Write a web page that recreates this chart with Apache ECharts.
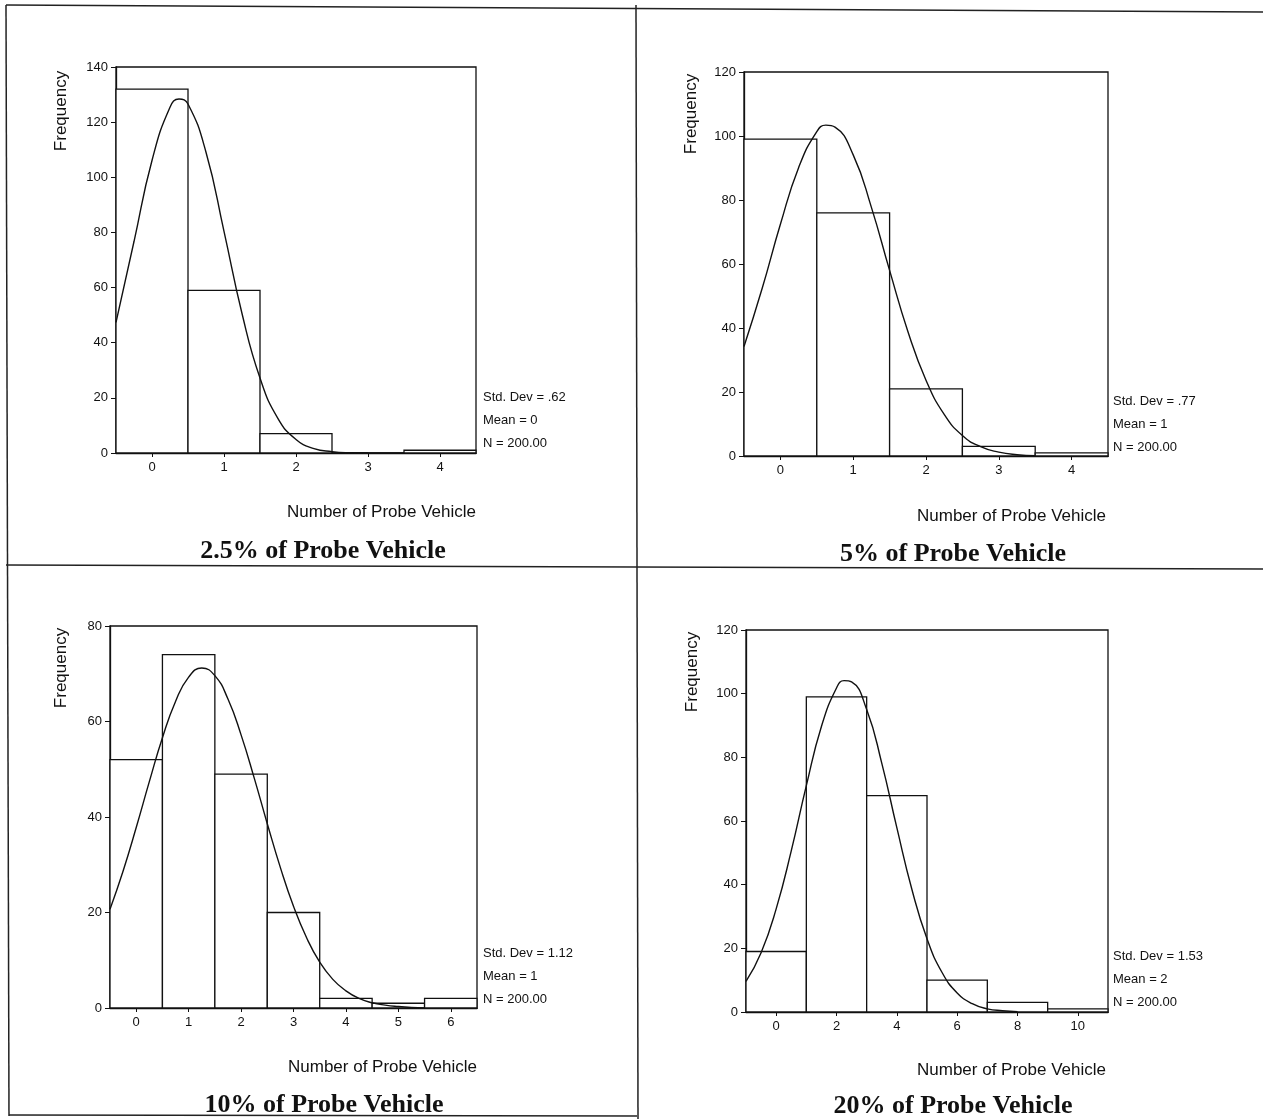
<!DOCTYPE html>
<html>
<head>
<meta charset="utf-8">
<script src="https://cdn.jsdelivr.net/npm/echarts@6/dist/echarts.min.js"></script>
<style>
html,body{margin:0;padding:0;background:#fff;}
#chart{width:1263px;height:1119px;}
</style>
</head>
<body>
<div id="chart"></div>
<script>
// ---------- DATA ----------
const titles = ['2.5% of Probe Vehicle', '5% of Probe Vehicle', '10% of Probe Vehicle', '20% of Probe Vehicle'];
const xAxisName = 'Number of Probe Vehicle';
const yAxisName = 'Frequency';

// 2.5%
const bins25 = [0, 1, 2, 3, 4];
const freq25 = [132, 59, 7, 0, 1];
const curveX25 = [-0.5, -0.25, 0, 0.25, 0.375, 0.5, 0.75, 1.0, 1.25, 1.5, 1.75, 2.0, 2.25, 2.5, 2.75, 3.0];
const curveY25 = [47.4, 76.7, 106.1, 125.4, 128.4, 126.6, 109.1, 80.4, 50.6, 27.2, 12.5, 4.9, 1.6, 0.5, 0.1, 0];
const xTicks25 = [0, 1, 2, 3, 4];
const stats25 = ['Std. Dev = .62', 'Mean = 0', 'N = 200.00'];

// 5%
const bins5 = [0, 1, 2, 3, 4];
const freq5 = [99, 76, 21, 3, 1];
const curveX5 = [-0.5, -0.25, 0, 0.25, 0.5, 0.625, 0.75, 1.0, 1.25, 1.5, 1.75, 2.0, 2.25, 2.5, 2.75, 3.0, 3.25, 3.5];
const curveY5 = [34.2, 52.4, 72.4, 90.1, 101.4, 103.4, 102.8, 94.1, 77.7, 58.0, 39.0, 23.7, 13.0, 6.4, 2.9, 1.2, 0.4, 0.1];
const xTicks5 = [0, 1, 2, 3, 4];
const stats5 = ['Std. Dev = .77', 'Mean = 1', 'N = 200.00'];

// 10%
const bins10 = [0, 1, 2, 3, 4, 5, 6];
const freq10 = [52, 74, 49, 20, 2, 1, 2];
const curveX10 = [-0.5, -0.25, 0, 0.25, 0.5, 0.75, 1.0, 1.25, 1.5, 1.75, 2.0, 2.25, 2.5, 2.75, 3.0, 3.25, 3.5, 3.75, 4.0, 4.25, 4.5, 4.75, 5.0, 5.25, 5.5];
const curveY10 = [20.7, 28.7, 37.8, 47.4, 56.6, 64.2, 69.3, 71.2, 69.6, 64.7, 57.2, 48.2, 38.6, 29.4, 21.3, 14.7, 9.6, 6.0, 3.6, 2.0, 1.1, 0.6, 0.3, 0.1, 0];
const xTicks10 = [0, 1, 2, 3, 4, 5, 6];
const stats10 = ['Std. Dev = 1.12', 'Mean = 1', 'N = 200.00'];

// 20%
const bins20 = [0, 2, 4, 6, 8, 10];
const freq20 = [19, 99, 68, 10, 3, 1];
const curveX20 = [-1, -0.5, 0, 0.5, 1, 1.5, 2, 2.25, 2.5, 3, 3.5, 4, 4.5, 5, 5.5, 6, 6.5, 7, 7.5, 8];
const curveY20 = [9.6, 18.6, 32.4, 50.6, 71.1, 89.7, 101.8, 104.1, 103.7, 95.0, 78.2, 57.9, 38.5, 23.0, 12.4, 6.0, 2.6, 1.0, 0.4, 0.1];
const xTicks20 = [0, 2, 4, 6, 8, 10];
const stats20 = ['Std. Dev = 1.53', 'Mean = 2', 'N = 200.00'];

// ---------- LAYOUT ----------
const panels = [
  { bins: bins25, freq: freq25, cx: curveX25, cy: curveY25, ticks: xTicks25, stats: stats25, binW: 1,
    xmin: -0.5, xmax: 4.5, ymax: 140,
    grid: { left: 116, top: 67, width: 360, height: 386 },
    freqPos: [61, 111], xNamePos: [476, 512], titlePos: [323, 551], statsPos: [483, 397] },
  { bins: bins5, freq: freq5, cx: curveX5, cy: curveY5, ticks: xTicks5, stats: stats5, binW: 1,
    xmin: -0.5, xmax: 4.5, ymax: 120,
    grid: { left: 744, top: 72, width: 364, height: 384 },
    freqPos: [691, 114], xNamePos: [1106, 516], titlePos: [953, 554], statsPos: [1113, 401] },
  { bins: bins10, freq: freq10, cx: curveX10, cy: curveY10, ticks: xTicks10, stats: stats10, binW: 1,
    xmin: -0.5, xmax: 6.5, ymax: 80,
    grid: { left: 110, top: 626, width: 367, height: 382 },
    freqPos: [61, 668], xNamePos: [477, 1067], titlePos: [324, 1105], statsPos: [483, 953] },
  { bins: bins20, freq: freq20, cx: curveX20, cy: curveY20, ticks: xTicks20, stats: stats20, binW: 2,
    xmin: -1, xmax: 11, ymax: 120,
    grid: { left: 746, top: 630, width: 362, height: 382 },
    freqPos: [692, 672], xNamePos: [1106, 1070], titlePos: [953, 1106], statsPos: [1113, 956] }
];

const INK = '#111';
const sansFont = '"Liberation Sans", Arial, sans-serif';
const serifFont = '"Liberation Serif", "Times New Roman", serif';

const grids = [], xAxes = [], yAxes = [], series = [], graphics = [];

panels.forEach((p, i) => {
  grids.push(Object.assign({ show: true, borderColor: INK, borderWidth: 1.3, backgroundColor: '#fff' }, p.grid));
  xAxes.push({
    type: 'value', gridIndex: i, min: p.xmin, max: p.xmax,
    axisLine: { show: true, onZero: false, lineStyle: { color: INK, width: 1.3 } },
    axisTick: { show: true, length: 4, customValues: p.ticks, lineStyle: { color: INK } },
    axisLabel: { show: true, customValues: p.ticks, margin: 8, color: '#111', fontSize: 13, fontFamily: sansFont },
    splitLine: { show: false }
  });
  yAxes.push({
    type: 'value', gridIndex: i, min: 0, max: p.ymax, interval: 20,
    axisLine: { show: true, onZero: false, lineStyle: { color: INK, width: 1.3 } },
    axisTick: { show: true, length: 5, lineStyle: { color: INK } },
    axisLabel: { show: true, margin: 8, color: '#111', fontSize: 13, fontFamily: sansFont },
    splitLine: { show: false }
  });
  const w = p.binW;
  series.push({
    type: 'custom', xAxisIndex: i, yAxisIndex: i,
    data: p.bins.map((b, k) => [b, p.freq[k]]),
    encode: { x: 0, y: 1 },
    renderItem: function (params, api) {
      const c = api.value(0), v = api.value(1);
      const a = api.coord([c - w / 2, v]);
      const b = api.coord([c + w / 2, 0]);
      return {
        type: 'rect',
        shape: { x: a[0], y: a[1], width: b[0] - a[0], height: b[1] - a[1] },
        style: { fill: '#fff', stroke: INK, lineWidth: 1.3 }
      };
    },
    z: 2
  });
  series.push({
    type: 'line', xAxisIndex: i, yAxisIndex: i,
    data: p.cx.map((x, k) => [x, p.cy[k]]),
    smooth: 0.5, showSymbol: false, symbol: 'none',
    lineStyle: { color: INK, width: 1.4 }, z: 3, silent: true
  });
  graphics.push({
    type: 'text', x: p.freqPos[0], y: p.freqPos[1], rotation: Math.PI / 2,
    style: { text: yAxisName, font: '17px ' + sansFont, fill: '#111', textAlign: 'center', textVerticalAlign: 'middle', align: 'center', verticalAlign: 'middle' }
  });
  graphics.push({
    type: 'text', x: p.xNamePos[0], y: p.xNamePos[1],
    style: { text: xAxisName, font: '17px ' + sansFont, fill: '#111', textAlign: 'right', textVerticalAlign: 'middle', align: 'right', verticalAlign: 'middle' }
  });
  graphics.push({
    type: 'text', x: p.titlePos[0], y: p.titlePos[1],
    style: { text: titles[i], font: 'bold 26px ' + serifFont, fill: '#111', textAlign: 'center', textVerticalAlign: 'middle', align: 'center', verticalAlign: 'middle' }
  });
  p.stats.forEach((s, k) => {
    graphics.push({
      type: 'text', x: p.statsPos[0], y: p.statsPos[1] + k * 23,
      style: { text: s, font: '13px ' + sansFont, fill: '#111', textAlign: 'left', textVerticalAlign: 'middle', align: 'left', verticalAlign: 'middle' }
    });
  });
});

// frame lines
const frameLines = [
  [6, 5, 1263, 12],
  [6, 5, 9, 1116],
  [636, 5, 638, 1119],
  [6, 565, 1263, 569],
  [9, 1115, 637, 1116]
];
frameLines.forEach(l => {
  graphics.push({ type: 'line', shape: { x1: l[0], y1: l[1], x2: l[2], y2: l[3] }, style: { stroke: '#222', lineWidth: 1.5 }, z: 10 });
});

const chart = echarts.init(document.getElementById('chart'), null, { renderer: 'canvas' });
chart.setOption({
  backgroundColor: '#fff',
  animation: false,
  grid: grids,
  xAxis: xAxes,
  yAxis: yAxes,
  series: series,
  graphic: { elements: graphics }
});
</script>
</body>
</html>
